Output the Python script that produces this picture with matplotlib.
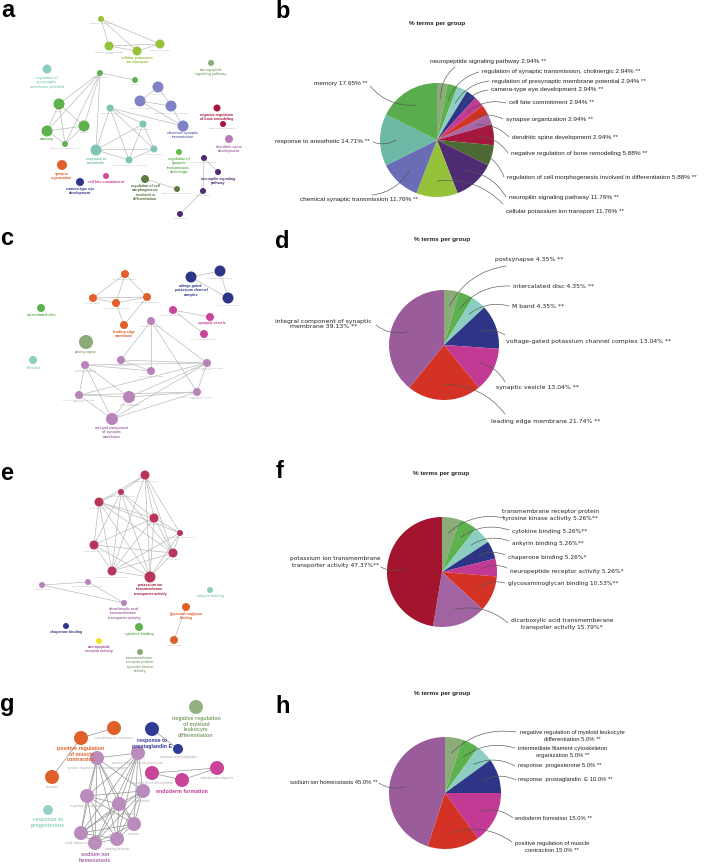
import numpy as np
import matplotlib
matplotlib.use('Agg')
import matplotlib.pyplot as plt

W, H = 709, 865

GG = '#8bab78'; GREEN = '#5db14e'; LTEAL = '#8ccfc2'; DBLUE = '#2e3587'
MAG = '#c23a93'; RED = '#d33225'; MAUVE = '#a766a6'; CRIM = '#a5173d'
OLIVE = '#4c6a34'; DPURP = '#4f2b73'; YG = '#96c13b'; SLATE = '#6a6db5'
TEAL = '#6cb9a6'; PURPLE = '#9a5c9a'; ORANGE = '#e0602a'

# ---------------- pie data ----------------
b_names = ['neuropeptide signaling pathway', 'regulation of synaptic transmission, cholinergic',
           'regulation of presynaptic membrane potential', 'camera-type eye development',
           'cell fate commitment', 'synapse organization', 'dendritic spine development',
           'negative regulation of bone remodeling',
           'regulation of cell morphogenesis involved in differentiation',
           'neuropilin signaling pathway', 'cellular potassium ion transport',
           'chemical synaptic transmission', 'response to anesthetic', 'memory']
b_values = [2.94, 2.94, 2.94, 2.94, 2.94, 2.94, 2.94, 5.88, 5.88, 11.76, 11.76, 11.76, 14.71, 17.65]
b_stars = ['**'] * 14
b_colors = [GG, GREEN, LTEAL, DBLUE, MAG, RED, MAUVE, CRIM, OLIVE, DPURP, YG, SLATE, TEAL, '#5aad4e']

d_names = ['postsynapse', 'intercalated disc', 'M band',
           'voltage-gated potassium channel complex', 'synaptic vesicle',
           'leading edge membrane', 'integral component of synaptic\nmembrane']
d_values = [4.35, 4.35, 4.35, 13.04, 13.04, 21.74, 39.13]
d_stars = ['**'] * 7
d_colors = [GG, GREEN, LTEAL, DBLUE, MAG, RED, PURPLE]

f_names = ['transmembrane receptor protein\ntyrosine kinase activity', 'cytokine binding',
           'ankyrin binding', 'chaperone binding', 'neuropeptide receptor activity',
           'glycosaminoglycan binding', 'dicarboxylic acid transmemberane\ntranspoter activity',
           'potassium ion transmembrane\ntransporter activity']
f_values = [5.26, 5.26, 5.26, 5.26, 5.26, 10.53, 15.79, 47.37]
f_stars = ['**', '**', '**', '*', '*', '**', '*', '**']
f_colors = [GG, GREEN, LTEAL, DBLUE, MAG, RED, '#a263a2', '#a3142f']

h_names = ['negative regulation of myeloid leukocyte\ndifferentiation',
           'intermediate filament cytoskeleton\norganization', 'response  progesterone',
           'response  prostaglandin  E', 'endoderm formation',
           'positive regulation of muscle\ncontraction', 'sodium ion homeostasis']
h_values = [5.0, 5.0, 5.0, 10.0, 15.0, 15.0, 45.0]
h_stars = ['**'] * 7
h_colors = [GG, GREEN, LTEAL, DBLUE, MAG, RED, PURPLE]

# ---------------- network data (a, c, e, g) ----------------
a_x = [101, 109, 137, 160, 211, 47, 100, 135, 59, 47, 84, 65, 158, 140, 171, 183, 217, 223, 229,
       110, 143, 96, 154, 129, 179, 204, 218, 203, 180, 62, 106, 80, 145, 177]
a_y = [19, 46, 51, 44, 63, 69, 73, 80, 104, 131, 126, 144, 87, 101, 106, 126, 108, 124, 139,
       108, 124, 150, 149, 160, 152, 158, 172, 191, 214, 165, 176, 182, 179, 189]
a_r = [3, 4.5, 4.5, 4.5, 3, 4.5, 3, 3, 5.5, 5.5, 5.5, 3, 5.5, 5.5, 5.5, 5.5, 3.5, 3, 4,
       3.5, 3.5, 5.5, 3.5, 3.5, 3, 3, 3, 3, 3, 5, 3, 4, 4, 3]
a_col = [YG, YG, YG, YG, GG, LTEAL, GREEN, GREEN, GREEN, GREEN, GREEN, GREEN, '#7f82c6', '#7f82c6',
         '#7f82c6', '#7f82c6', CRIM, CRIM, '#b57bb2', '#7fc4b4', '#7fc4b4', '#7fc4b4', '#7fc4b4',
         '#7fc4b4', '#66b84a', DPURP, DPURP, DPURP, DPURP, ORANGE, '#cf4c9e', DBLUE, '#5e7a40', '#5e7a40']
a_edges = [(0, 1), (0, 2), (0, 3), (1, 2), (1, 3), (2, 3), (6, 7), (6, 8), (6, 9), (6, 10), (6, 11),
           (8, 9), (8, 10), (8, 11), (9, 10), (9, 11), (10, 11), (12, 13), (12, 14), (13, 14), (13, 15),
           (14, 15), (19, 20), (19, 21), (19, 22), (19, 23), (20, 21), (20, 22), (20, 23), (21, 22),
           (21, 23), (22, 23), (6, 21), (25, 26), (25, 27), (27, 28), (32, 33), (19, 15)]
a_sub = ['potassium ion transport', 'potassium ion transmembrane\ntransport', '', 'potassium ion import',
         '', '', 'learning or memory', 'learning', 'cognition', '', 'behavior',
         'regulation of synaptic plasticity', 'synaptic signaling', 'trans-synaptic signaling',
         'anterograde trans-synaptic signaling', '', '', 'regulation of bone remodeling', '',
         'response to ethanol', 'response to alcohol', '', 'response to drug',
         'response to organic cyclic compound', '', 'neuron projection guidance', '', 'axon guidance',
         'axonogenesis', '', '', '', '', 'regulation of cell morphogenesis']
a_lab = ['cellular potassium\nion transport', 'neuropeptide\nsignaling pathway',
         'regulation of\npresynaptic\nmembrane potential', 'memory', 'chemical synaptic\ntransmission',
         'negative regulation\nof bone remodeling', 'dendritic spine\ndevelopment',
         'response to\nanesthetic', 'regulation of\nsynaptic\ntransmission,\ncholinergic',
         'neuropilin signaling\npathway', 'synapse\norganization', 'cell fate commitment',
         'camera-type eye\ndevelopment', 'regulation of cell\nmorphogenesis\ninvolved in\ndifferentiation']
a_lab_xy = [(137, 56), (211, 68), (47, 76), (47, 137), (183, 131), (217, 113), (229, 145), (96, 157),
            (179, 157), (218, 177), (62, 172), (106, 180), (80, 187), (145, 184)]
a_lab_col = [YG, GG, LTEAL, GREEN, SLATE, CRIM, MAUVE, TEAL, GREEN, DPURP, ORANGE, MAG, DBLUE, OLIVE]

c_x = [125, 93, 116, 147, 124, 191, 220, 228, 173, 210, 204, 41, 86, 33, 151, 121, 151, 85, 207, 79, 129, 197, 112]
c_y = [274, 298, 303, 297, 325, 277, 271, 298, 310, 317, 334, 308, 342, 360, 321, 360, 371, 365, 363, 395, 397, 392, 419]
c_r = [4, 4, 4, 4, 4, 5.5, 5.5, 5.5, 4, 4, 4, 4, 7, 4, 4, 4, 4, 4, 4, 4, 6, 4, 6]
c_col = [ORANGE] * 5 + [DBLUE] * 3 + ['#c8459a'] * 3 + [GREEN, GG, LTEAL] + ['#b783b8'] * 9
c_edges = [(0, 1), (0, 2), (0, 3), (1, 2), (1, 3), (2, 3), (2, 4), (3, 4), (5, 6), (5, 7), (6, 7),
           (8, 9), (8, 10), (14, 15), (14, 16), (14, 18), (14, 21), (15, 16), (17, 18), (17, 19),
           (17, 20), (17, 22), (17, 16), (18, 19), (18, 20), (18, 22), (18, 21), (19, 20), (19, 22),
           (19, 21), (20, 22), (20, 21), (22, 21), (15, 18)]
c_sub = ['cell projection membrane', 'ruffle membrane', 'neuron projection membrane',
         'lamellipodium membrane', '', '', 'potassium channel complex', 'cation channel complex',
         'synaptic vesicle membrane', '', 'exocytic vesicle membrane', '', '', '',
         'postsynaptic membrane', 'synaptic membrane', 'neuron to neuron synapse',
         'integral component of\npostsynaptic membrane', 'intrinsic component of presynaptic\nmembrane',
         'intrinsic component of postsynaptic\nmembrane', 'intrinsic component of\nsynaptic membrane',
         'integral component of presynaptic\nmembrane', '']
c_lab = ['leading edge\nmembrane', 'voltage-gated\npotassium channel\ncomplex', 'synaptic vesicle',
         'intercalated disc', 'postsynapse', 'M band', 'integral component\nof synaptic\nmembrane']
c_lab_xy = [(124, 330), (191, 284), (212, 321), (41, 313), (86, 350), (33, 366), (112, 426)]
c_lab_col = [ORANGE, DBLUE, MAG, GREEN, GG, LTEAL, MAUVE]

e_x = [145, 121, 99, 154, 180, 94, 173, 112, 150, 42, 88, 124, 210, 186, 174, 66, 139, 99, 140]
e_y = [475, 492, 502, 518, 533, 545, 553, 571, 577, 585, 582, 603, 590, 607, 640, 626, 627, 641, 652]
e_r = [4.5, 3, 4.5, 4.5, 3, 4.5, 4.5, 4.5, 5.5, 3, 3, 3, 3, 4, 4, 3, 4, 3, 3]
e_col = ['#b8365a'] * 9 + ['#b783b8'] * 3 + [LTEAL, ORANGE, ORANGE, DBLUE, GREEN, '#efe424', GG]
e_edges = [(i, j) for i in range(9) for j in range(i + 1, 9) if (i, j) not in [(0, 5), (1, 4), (4, 5)]]
e_edges += [(9, 10), (9, 11), (10, 11), (13, 14)]
e_sub = ['potassium channel activity', 'voltage-gated channel activity', 'cation channel activity',
         'ion channel activity', 'voltage-gated ion channel activity', 'gated channel activity',
         'channel activity', 'voltage-gated cation channel activity', '', 'symporter activity',
         'anion transmembrane transporter', '', '', '', 'heparin binding', '', '', '', '']
e_lab = ['potassium ion\ntransmembrane\ntransporter activity', 'dicarboxylic acid\ntransmembrane\ntransporter activity',
         'ankyrin binding', 'glycosaminoglycan\nbinding', 'chaperone binding', 'cytokine binding',
         'neuropeptide\nreceptor activity', 'transmembrane\nreceptor protein\ntyrosine kinase\nactivity']
e_lab_xy = [(150, 583), (124, 607), (210, 594), (186, 612), (66, 630), (139, 632), (99, 645), (140, 656)]
e_lab_col = [CRIM, MAUVE, LTEAL, ORANGE, DBLUE, GREEN, '#9b4f96', GG]

g_x = [196, 114, 81, 52, 152, 178, 152, 182, 217, 48, 97, 138, 87, 119, 143, 134, 81, 95, 117]
g_y = [707, 728, 738, 777, 729, 749, 773, 780, 768, 810, 758, 753, 796, 804, 791, 824, 833, 843, 839]
g_r = [7, 7, 7, 7, 7, 5, 7, 7, 7, 5, 7, 7, 7, 7, 7, 7, 7, 7, 7]
g_col = ['#93b37e', ORANGE, ORANGE, ORANGE, '#2f3b95', '#2f3b95', '#c8459a', '#c8459a', '#c8459a',
         '#96d0c6'] + ['#b98cbd'] * 9
g_edges = [(1, 2), (2, 3), (4, 5), (6, 7), (6, 8), (7, 8)]
g_edges += [(i, j) for i in range(10, 19) for j in range(i + 1, 19)]
g_sub = ['', 'smooth muscle contraction', '', 'excretion', '', 'response to prostaglandin',
         'regulation of cell differentiation', '', 'endoderm development', '',
         'positive regulation of sodium ion transport', 'positive regulation of blood pressure',
         'regulation of sodium ion', 'sodium ion transport', 'natriuresis', 'urination',
         'renal sodium excretion', '', 'drinking behavior']
g_lab = ['negative regulation\nof myeloid\nleukocyte\ndifferentiation', 'positive regulation\nof muscle\ncontraction',
         'response to\nprostaglandin E', 'endoderm formation', 'response to\nprogesterone',
         'sodium ion\nhomeostasis']
g_lab_xy = [(196, 716), (81, 746), (152, 738), (182, 789), (48, 817), (95, 852)]
g_lab_col = ['#7fa36c', ORANGE, '#2f3b95', MAG, LTEAL, MAUVE]

fig = plt.figure(figsize=(W / 100, H / 100), dpi=100)
ax = fig.add_axes([0, 0, 1, 1])


def network(xs, ys, rs, cols, edges, subs, labs, lab_xy, lab_col, fs, ecol='#b5b5b5'):
    for i, j in edges:
        ax.plot([xs[i], xs[j]], [ys[i], ys[j]], color=ecol, lw=0.45, zorder=1)
    ax.scatter(xs, ys, s=(1.44 * np.array(rs)) ** 2, c=cols, linewidths=0, zorder=2)
    for x, y, r, s in zip(xs, ys, rs, subs):
        if s:
            ax.text(x, y + r + 0.8, s, fontsize=fs * 0.6, color='#ababab', ha='center', va='top',
                    family='Liberation Sans', linespacing=1.0, zorder=3)
    for t, (x, y), c in zip(labs, lab_xy, lab_col):
        ax.text(x, y, t, fontsize=fs, color=c, fontweight='bold', ha='center', va='top',
                family='Liberation Sans', linespacing=1.15, zorder=3)


network(a_x, a_y, a_r, a_col, a_edges, a_sub, a_lab, a_lab_xy, a_lab_col, 2.6)
network(c_x, c_y, c_r, c_col, c_edges, c_sub, c_lab, c_lab_xy, c_lab_col, 2.6)
network(e_x, e_y, e_r, e_col, e_edges, e_sub, e_lab, e_lab_xy, e_lab_col, 2.6)
network(g_x, g_y, g_r, g_col, g_edges, g_sub, g_lab, g_lab_xy, g_lab_col, 3.8, ecol='#8a8a8a')


def pie(values, colors, names, stars, center, radius, txt_xy, txt_ha, attach, fs, family,
        fmt='%s %.2f%% %s', spacing=1.2):
    wedges, _ = ax.pie(values, colors=colors, center=center, radius=radius, startangle=-90,
                       counterclock=True, wedgeprops=dict(linewidth=0), frame=True)
    for w, n, v, st, (tx, ty), ha, (lx, ly) in zip(wedges, names, values, stars, txt_xy, txt_ha, attach):
        ax.text(tx, ty, fmt % (n, v, st), fontsize=fs, ha=ha, va='center', family=family,
                color='#222222', linespacing=spacing, multialignment='center')
        mid = np.deg2rad((w.theta1 + w.theta2) / 2)
        px = w.center[0] + 0.72 * w.r * np.cos(mid)
        py = w.center[1] + 0.72 * w.r * np.sin(mid)
        ax.annotate('', xy=(px, py), xytext=(lx, ly),
                    arrowprops=dict(arrowstyle='-', color='#555555', lw=0.45,
                                    connectionstyle='arc3,rad=0.25', shrinkA=0, shrinkB=0))


pie(b_values, b_colors, b_names, b_stars, (437, 140), 57,
    [(430, 61), (482, 72), (492, 81), (491, 90), (509, 103), (506, 119), (512, 137), (511, 153),
     (507, 177), (509, 197), (506, 212), (418, 200), (370, 142), (367, 83)],
    ['left'] * 11 + ['right'] * 3,
    [(455, 67), (479, 72), (489, 81), (488, 90), (506, 103), (503, 119), (509, 137), (508, 153),
     (504, 177), (506, 197), (503, 204), (372, 195), (373, 142), (370, 86)],
    4.6, 'Liberation Sans')

pie(d_values, d_colors, d_names, d_stars, (444, 345), 55,
    [(495, 260), (513, 286), (512, 306), (506, 341), (496, 387), (491, 421), (372, 324)],
    ['left'] * 6 + ['right'],
    [(506, 266), (510, 286), (509, 306), (505, 335), (505, 382), (505, 414), (376, 325)],
    4.4, 'DejaVu Sans')

pie(f_values, f_colors, f_names, f_stars, (442, 572), 55,
    [(502, 515), (512, 531), (512, 544), (508, 557), (510, 571), (508, 584), (511, 624), (381, 562)],
    ['left'] * 7 + ['right'],
    [(505, 518), (509, 530), (509, 541), (505, 555), (507, 568), (505, 583), (508, 623), (381, 567)],
    4.2, 'DejaVu Sans', fmt='%s %.2f%%%s', spacing=1.7)

pie(h_values, h_colors, h_names, h_stars, (445, 793), 56,
    [(572, 736), (563, 752), (518, 766), (518, 780), (515, 818), (552, 847), (377, 783)],
    ['center', 'center', 'left', 'left', 'left', 'center', 'right'],
    [(516, 732), (515, 748), (515, 766), (516, 780), (513, 818), (512, 842), (379, 783)],
    4.2, 'Liberation Sans', fmt='%s %.1f%% %s', spacing=1.5)

for cx, cy in [(437, 23), (442, 240), (441, 473), (442, 694)]:
    ax.text(cx, cy, '% terms per group', fontsize=4.6, fontweight='bold', ha='center', va='center',
            family='Liberation Sans', color='#222222')

for letter, x, y in [('a', 1, 17), ('b', 275, 18), ('c', 0, 245), ('d', 275, 248),
                     ('e', 0, 480), ('f', 276, 478), ('g', 0, 711), ('h', 275, 713)]:
    ax.text(x, y, letter, fontsize=17, fontweight='bold', ha='left', va='baseline',
            family='Liberation Sans', color='black')

ax.set_xlim(0, W)
ax.set_ylim(H, 0)
ax.set_aspect('equal')
ax.axis('off')
fig.savefig('out.png', dpi=100)
